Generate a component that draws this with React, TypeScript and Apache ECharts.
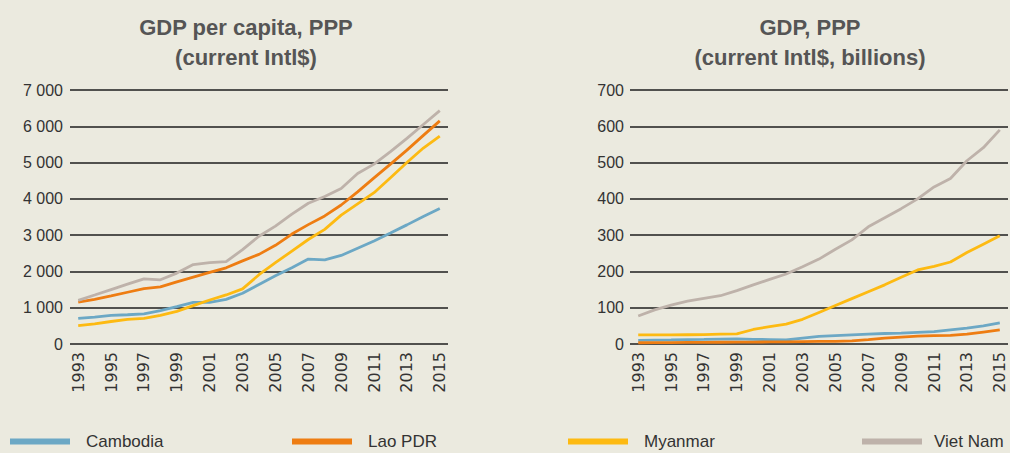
import React, { useEffect, useRef } from 'react';
import * as echarts from 'echarts';

const years = ['1993', '1994', '1995', '1996', '1997', '1998', '1999', '2000', '2001', '2002', '2003', '2004', '2005', '2006', '2007', '2008', '2009', '2010', '2011', '2012', '2013', '2014', '2015'];

const seriesNames = ['Cambodia', 'Lao PDR', 'Myanmar', 'Viet Nam'];
const seriesColors = ['#6CA8C5', '#EE7D12', '#FDBA12', '#BEB2AA'];

// GDP per capita, PPP (current Intl$)
const pcCambodia = [704, 741, 787, 806, 833, 917, 1028, 1148, 1148, 1230, 1400, 1640, 1880, 2100, 2340, 2320, 2440, 2640, 2840, 3056, 3283, 3513, 3734];
const pcLao = [1157, 1231, 1324, 1426, 1528, 1574, 1713, 1843, 1972, 2100, 2290, 2470, 2720, 3030, 3290, 3530, 3830, 4194, 4580, 4958, 5344, 5749, 6150];
const pcMyanmar = [509, 556, 620, 676, 704, 787, 898, 1056, 1213, 1352, 1519, 1910, 2240, 2560, 2880, 3160, 3550, 3860, 4170, 4580, 5000, 5400, 5730];
const pcVietNam = [1204, 1350, 1500, 1650, 1796, 1770, 1954, 2190, 2240, 2270, 2600, 2970, 3250, 3580, 3880, 4065, 4286, 4700, 4958, 5300, 5666, 6050, 6430];

// GDP, PPP (current Intl$, billions)
const gdpCambodia = [10, 10.5, 11, 12, 12.5, 13.5, 14, 13, 12, 11, 16, 21, 23, 25, 27, 29, 30, 32, 34, 39, 44, 50, 58];
const gdpLao = [3.5, 3.8, 4, 4.3, 4.6, 4.8, 5, 5.3, 5.6, 6, 6.5, 7, 7.5, 8.5, 12, 16, 19, 21.5, 23, 24, 27, 33, 39];
const gdpMyanmar = [25, 25, 25, 25.5, 26, 27, 28, 40, 48, 55, 68, 87, 106, 125, 144, 163, 184, 204, 214, 226, 252, 275, 298];
const gdpVietNam = [77, 94, 107, 118, 126, 133, 147, 163, 178, 193, 213, 234, 261, 287, 323, 348, 373, 400, 433, 456, 505, 541, 590];

const leftTicks = { min: 0, max: 7000, interval: 1000 };
const rightTicks = { min: 0, max: 700, interval: 100 };

const titles = [
  { x: 246, lines: ['GDP per capita, PPP', '(current Intl$)'] },
  { x: 810, lines: ['GDP, PPP', '(current Intl$, billions)'] },
];

const legendLefts = [10, 292, 568, 862];
const legendTextPads = [11, 11, 11, 7];

const BG = '#EBEADF';
const TEXT = '#333333';

function fmtThousands(v: number): string {
  if (v >= 1000) {
    const th = Math.floor(v / 1000);
    const rest = String(v % 1000).padStart(3, '0');
    return th + ' ' + rest;
  }
  return String(v);
}

export default function App() {
  const ref = useRef<HTMLDivElement>(null);
  useEffect(() => {
    if (!ref.current) return;
    const chart = echarts.init(ref.current, null, { renderer: 'svg' });

    const xAxisBase = (gridIndex: number) => ({
      type: 'category',
      gridIndex,
      data: years,
      boundaryGap: true,
      axisLine: { show: false },
      axisTick: { show: false },
      axisLabel: {
        rotate: 90,
        interval: 1,
        fontFamily: 'DejaVu Sans',
        fontSize: 16,
        color: TEXT,
        margin: 8,
      },
      splitLine: { show: false },
    });

    const yAxisBase = (gridIndex: number, ticks: any, margin: number, formatter: any) => ({
      type: 'value',
      gridIndex,
      min: ticks.min,
      max: ticks.max,
      interval: ticks.interval,
      axisLine: { show: false },
      axisTick: { show: false },
      axisLabel: {
        fontFamily: 'Liberation Sans',
        fontSize: 16,
        color: TEXT,
        margin,
        formatter,
      },
      splitLine: { show: true, lineStyle: { color: '#1e1e1e', width: 1.7 } },
    });

    const leftData = [pcCambodia, pcLao, pcMyanmar, pcVietNam];
    const rightData = [gdpCambodia, gdpLao, gdpMyanmar, gdpVietNam];

    const mkSeries = (data: number[], i: number, idx: number) => ({
      type: 'line',
      name: seriesNames[i],
      xAxisIndex: idx,
      yAxisIndex: idx,
      data,
      symbol: 'none',
      lineStyle: { color: seriesColors[i], width: 2.8 },
      itemStyle: { color: seriesColors[i] },
      emphasis: { disabled: true },
      z: 3,
    });

    const graphics: any[] = [];
    titles.forEach((t) => {
      t.lines.forEach((line, li) => {
        graphics.push({
          type: 'text',
          x: t.x,
          y: li === 0 ? 27 : 57,
          style: {
            text: line,
            fill: '#555555',
            fontFamily: 'Liberation Sans',
            fontWeight: 'bold',
            fontSize: 22,
            align: 'center',
            verticalAlign: 'middle',
          },
        });
      });
    });

    chart.setOption({
      animation: false,
      backgroundColor: BG,
      grid: [
        { left: 70, right: 562, top: 90, bottom: 109, containLabel: false },
        { left: 630, right: 2, top: 90, bottom: 109, containLabel: false },
      ],
      xAxis: [xAxisBase(0), xAxisBase(1)],
      yAxis: [
        yAxisBase(0, leftTicks, 7, (v: number) => fmtThousands(v)),
        yAxisBase(1, rightTicks, 6, (v: number) => String(v)),
      ],
      legend: seriesNames.map((n, i) => ({
        data: [n],
        left: legendLefts[i],
        top: 433,
        padding: 0,
        icon: 'rect',
        itemWidth: 60,
        itemHeight: 6,
        selectedMode: false,
        textStyle: {
          fontFamily: 'Liberation Sans',
          fontSize: 17,
          color: TEXT,
          padding: [0, 0, 0, legendTextPads[i]],
        },
      })),
      graphic: graphics,
      series: [
        ...leftData.map((d, i) => mkSeries(d, i, 0)),
        ...rightData.map((d, i) => mkSeries(d, i, 1)),
      ],
    });

    return () => chart.dispose();
  }, []);

  return (
    <div
      ref={ref}
      style={{ position: 'fixed', left: 0, top: 0, width: 1010, height: 453, background: BG }}
    />
  );
}
